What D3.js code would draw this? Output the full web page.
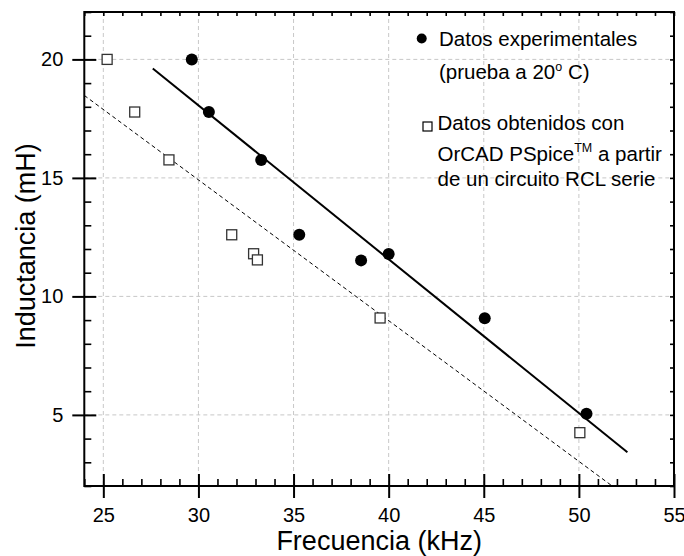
<!DOCTYPE html>
<html><head><meta charset="utf-8">
<script src="https://cdn.jsdelivr.net/npm/d3@7"></script>
<style>body{margin:0;background:#fff;} text{font-family:"Liberation Sans", Arial, sans-serif;fill:#000;}</style>
</head><body><svg id="c" width="684" height="556"></svg>
<script>
const expFreq = [29.65, 30.55, 33.3, 35.3, 38.55, 40.0, 45.05, 50.4];
const expInd = [20.0, 17.78, 15.76, 12.6, 11.52, 11.79, 9.08, 5.05];
const simFreq = [25.2, 26.65, 28.45, 31.75, 32.9, 33.1, 39.55, 50.05];
const simInd = [20.0, 17.78, 15.76, 12.6, 11.8, 11.54, 9.09, 4.25];
const expFitFreq = [27.6, 52.55];
const expFitInd = [19.62, 3.42];
const simFitFreq = [24.0, 51.75];
const simFitInd = [18.48, 2.0];
const xTicks = [25, 30, 35, 40, 45, 50, 55];
const yTicks = [5, 10, 15, 20];
const xMinor = d3.range(24, 56, 1);
const yMinor = d3.range(2, 23, 1);

const svg = d3.select("#c");
const x = d3.scaleLinear([24, 55], [84.3, 674]);
const y = d3.scaleLinear([2, 22], [486, 12]);
const L = 84.3, R = 674, T = 12, B = 486;

// grid
const grid = svg.append("g").attr("stroke", "#c8c8c8").attr("stroke-width", 1).attr("stroke-dasharray", "4,3");
grid.selectAll(".gx").data(xTicks.filter(d => d < 55)).join("line")
  .attr("x1", d => x(d)).attr("x2", d => x(d)).attr("y1", T).attr("y2", B);
grid.selectAll(".gy").data(yTicks).join("line")
  .attr("x1", L).attr("x2", R).attr("y1", d => y(d)).attr("y2", d => y(d));

// fit lines
const line = d3.line().x(d => x(d[0])).y(d => y(d[1]));
svg.append("path").datum(expFitFreq.map((f, i) => [f, expFitInd[i]]))
  .attr("d", line).attr("fill", "none").attr("stroke", "#000").attr("stroke-width", 2);
svg.append("path").datum(simFitFreq.map((f, i) => [f, simFitInd[i]]))
  .attr("d", line).attr("fill", "none").attr("stroke", "#000").attr("stroke-width", 1).attr("stroke-dasharray", "4,3");

// axes
function style(g) { g.select(".domain").remove(); g.selectAll("line").attr("stroke", "#000"); }
const fs = 20;
// bottom
const bx = svg.append("g").attr("transform", `translate(0,${B})`)
  .call(d3.axisBottom(x).tickValues(xTicks).tickSize(12).tickPadding(10).tickFormat(d3.format("d")));
bx.call(style); bx.selectAll("line").attr("stroke-width", 2);
bx.selectAll("text").attr("font-size", fs).attr("font-family", "Liberation Sans, Arial, sans-serif");
svg.append("g").attr("transform", `translate(0,${B})`)
  .call(d3.axisTop(x).tickValues(xTicks).tickSize(12).tickFormat(""))
  .call(style).selectAll("line").attr("stroke-width", 2);
svg.append("g").attr("transform", `translate(0,${B})`)
  .call(d3.axisTop(x).tickValues(xMinor.filter(d => !xTicks.includes(d))).tickSize(7).tickFormat(""))
  .call(style).selectAll("line").attr("stroke-width", 1.6);
// left
const ly = svg.append("g").attr("transform", `translate(${L},0)`)
  .call(d3.axisLeft(y).tickValues(yTicks).tickSize(12).tickPadding(9).tickFormat(d3.format("d")));
ly.call(style); ly.selectAll("line").attr("stroke-width", 2);
ly.selectAll("text").attr("font-size", fs).attr("font-family", "Liberation Sans, Arial, sans-serif");
svg.append("g").attr("transform", `translate(${L},0)`)
  .call(d3.axisRight(y).tickValues(yTicks).tickSize(12).tickFormat(""))
  .call(style).selectAll("line").attr("stroke-width", 2);
svg.append("g").attr("transform", `translate(${L},0)`)
  .call(d3.axisRight(y).tickValues(yMinor.filter(d => !yTicks.includes(d))).tickSize(7).tickFormat(""))
  .call(style).selectAll("line").attr("stroke-width", 1.6);
// top
svg.append("g").attr("transform", `translate(0,${T})`)
  .call(d3.axisBottom(x).tickValues(xMinor).tickSize(4).tickFormat(""))
  .call(style).selectAll("line").attr("stroke-width", 1.6);
// right
svg.append("g").attr("transform", `translate(${R},0)`)
  .call(d3.axisLeft(y).tickValues(yMinor).tickSize(4).tickFormat(""))
  .call(style).selectAll("line").attr("stroke-width", 1.6);
// frame
svg.append("rect").attr("x", L).attr("y", T).attr("width", R - L).attr("height", B - T)
  .attr("fill", "none").attr("stroke", "#000").attr("stroke-width", 2);

// markers
svg.append("g").selectAll("rect").data(simFreq.map((f, i) => [f, simInd[i]])).join("rect")
  .attr("x", d => x(d[0]) - 5).attr("y", d => y(d[1]) - 5).attr("width", 10).attr("height", 10)
  .attr("fill", "#fff").attr("stroke", "#333").attr("stroke-width", 1.3);
svg.append("g").selectAll("circle").data(expFreq.map((f, i) => [f, expInd[i]])).join("circle")
  .attr("cx", d => x(d[0])).attr("cy", d => y(d[1])).attr("r", 6).attr("fill", "#000");

// axis titles
svg.append("text").attr("x", (L + R) / 2).attr("y", 550).attr("text-anchor", "middle")
  .attr("font-size", 27).text("Frecuencia (kHz)");
svg.append("text").attr("transform", `translate(35,${(T + B) / 2 - 3}) rotate(-90)`).attr("text-anchor", "middle")
  .attr("font-size", 27).text("Inductancia (mH)");

// legend
const lg = svg.append("g").attr("font-size", 20.5);
lg.append("circle").attr("cx", 421.7).attr("cy", 38.5).attr("r", 5).attr("fill", "#000");
lg.append("text").attr("x", 439).attr("y", 46).text("Datos experimentales");
const t2 = lg.append("text").attr("x", 439).attr("y", 79);
t2.append("tspan").text("(prueba a 20");
t2.append("tspan").attr("font-size", 12.5).attr("dy", -8).text("o");
t2.append("tspan").attr("dy", 8).text(" C)");
lg.append("rect").attr("x", 423).attr("y", 122).attr("width", 9).attr("height", 9)
  .attr("fill", "#fff").attr("stroke", "#000").attr("stroke-width", 1.2);
lg.append("text").attr("x", 437.5).attr("y", 130).text("Datos obtenidos con");
const t4 = lg.append("text").attr("x", 437.5).attr("y", 161);
t4.append("tspan").text("OrCAD PSpice");
t4.append("tspan").attr("font-size", 12.5).attr("dy", -9).text("TM");
t4.append("tspan").attr("dy", 9).text(" a partir");
lg.append("text").attr("x", 437.5).attr("y", 186).text("de un circuito RCL serie");
</script></body></html>
